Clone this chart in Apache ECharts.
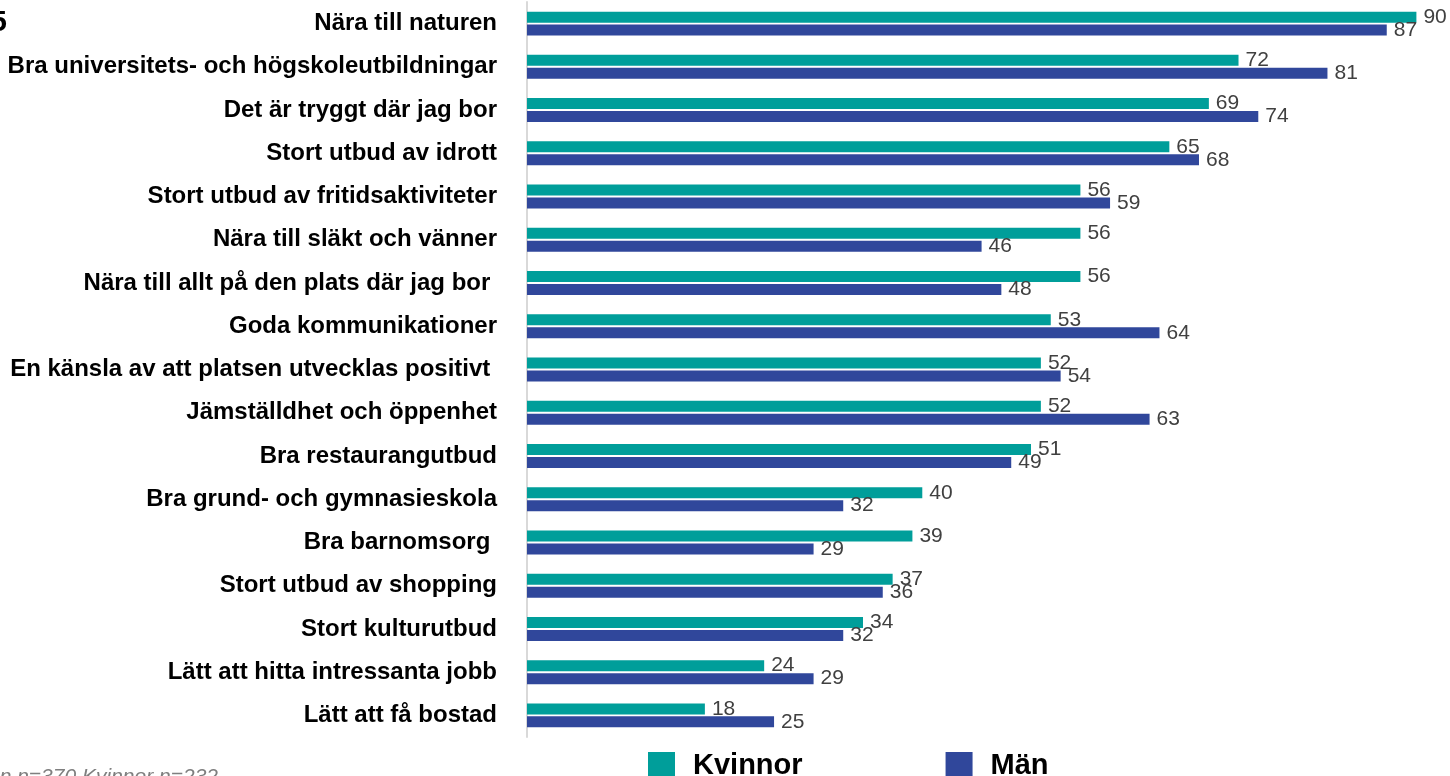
<!DOCTYPE html>
<html>
<head>
<meta charset="utf-8">
<script src="https://cdn.jsdelivr.net/npm/echarts@6/dist/echarts.min.js"></script>
<style>
html,body{margin:0;padding:0;background:#fff;}
#chart{width:1450px;height:776px;}
</style>
</head>
<body>
<div id="chart"></div>
<script>
const categories = [
  "Nära till naturen",
  "Bra universitets- och högskoleutbildningar",
  "Det är tryggt där jag bor",
  "Stort utbud av idrott",
  "Stort utbud av fritidsaktiviteter",
  "Nära till släkt och vänner",
  "Nära till allt på den plats där jag bor ",
  "Goda kommunikationer",
  "En känsla av att platsen utvecklas positivt ",
  "Jämställdhet och öppenhet",
  "Bra restaurangutbud",
  "Bra grund- och gymnasieskola",
  "Bra barnomsorg ",
  "Stort utbud av shopping",
  "Stort kulturutbud",
  "Lätt att hitta intressanta jobb",
  "Lätt att få bostad"
];
const kvinnor = [90, 72, 69, 65, 56, 56, 56, 53, 52, 52, 51, 40, 39, 37, 34, 24, 18];
const man = [87, 81, 74, 68, 59, 46, 48, 64, 54, 63, 49, 32, 29, 36, 32, 29, 25];
const seriesNames = ["Kvinnor", "Män"];
const footnote = "Män n=370 Kvinnor n=232";

const FONT = "'Liberation Sans', Arial, sans-serif";
const chart = echarts.init(document.getElementById('chart'));
const labelStyle = {
  show: true, position: 'right', distance: 7,
  color: '#404040', fontSize: 21, fontFamily: FONT
};
chart.setOption({
  animation: false,
  textStyle: { fontFamily: FONT },
  grid: { left: 527, right: 0, top: 2, bottom: 39, containLabel: false },
  xAxis: {
    type: 'value', min: 0, max: 93.4,
    axisLine: { show: false }, axisTick: { show: false },
    axisLabel: { show: false }, splitLine: { show: false }
  },
  yAxis: {
    type: 'category', data: categories, inverse: true,
    axisLine: { show: true, lineStyle: { color: '#d9d9d9', width: 2 } },
    axisTick: { show: false },
    axisLabel: { margin: 30, color: '#000', fontSize: 24, fontWeight: 'bold', fontFamily: FONT }
  },
  legend: {
    top: 751, left: 648, padding: 0, icon: 'rect', itemWidth: 27, itemHeight: 27, itemGap: 143,
    textStyle: { fontSize: 29, fontWeight: 'bold', color: '#000', fontFamily: FONT, padding: [0, 0, 0, 13] },
    data: seriesNames
  },
  graphic: [
    { type: 'text', x: 218, y: 767,
      style: { text: footnote, textAlign: 'right', textVerticalAlign: 'top', fill: '#7f7f7f',
               font: 'italic 21px ' + FONT } },
    { type: 'text', x: 7, y: 8,
      style: { text: '2025', textAlign: 'right', textVerticalAlign: 'top', fill: '#000',
               font: 'bold 30px ' + FONT } }
  ],
  series: [
    { name: seriesNames[0], type: 'bar', data: kvinnor, barWidth: 11, barGap: '18%',
      itemStyle: { color: '#009E9A' }, label: labelStyle },
    { name: seriesNames[1], type: 'bar', data: man, barWidth: 11, barGap: '18%',
      itemStyle: { color: '#30479B' }, label: labelStyle }
  ]
});
</script>
</body>
</html>
